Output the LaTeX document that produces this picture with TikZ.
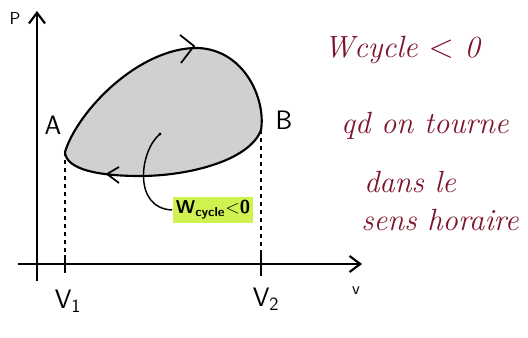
\documentclass[tikz,border=0pt]{standalone}
\usetikzlibrary{arrows.meta}
\definecolor{inkred}{RGB}{125,20,45}
\definecolor{cyclegray}{RGB}{208,208,206}
\definecolor{hilite}{RGB}{208,242,80}
\tikzset{every picture/.style={line width=0.75pt}}

\begin{document}
\begin{tikzpicture}[x=0.75pt,y=0.75pt,yscale=-1,xscale=1,
  axisline/.style={line width=1.6pt,-{Straight Barb[length=8pt,width=12pt]}},
  lbl/.style={inner sep=0.75pt,font=\sffamily\fontsize{20}{24}\selectfont},
  note/.style={inner sep=0.75pt,color=inkred,font=\fontsize{23}{28}\selectfont\itshape}]
\useasboundingbox (0,0) rectangle (528,338);

%Points of the cycle
\coordinate (A) at (65,152);
\coordinate (B) at (261,130);
\coordinate (V1) at (65,264);
\coordinate (V2) at (261,264);
\coordinate (dot) at (160,134);

%Shape: Axis 2D
\draw [axisline] (37,281) -- (37,11);
\draw [axisline] (18,264) -- (362,264);

%Curve Lines: the cycle
\draw [line width=1.6pt,fill=cyclegray] (A) .. controls (78,110) and (140,47) .. (198,48) .. controls (245,50) and (266,100) .. (B) .. controls (250,160) and (190,176) .. (140,176) .. controls (100,176) and (66,170) .. (A) -- cycle;
%Straight Lines: direction marks
\draw [line width=1.3pt] (180,35) -- (194,46) -- (181,63);
\draw [line width=1.3pt] (119,167) -- (107,174) -- (119,183);

%Straight Lines: dashed
\draw [dashed,line width=1pt] (A) -- (V1);
\draw [dashed,line width=1pt] (B) -- (V2);
\draw [line width=1.2pt] (V1) ++(0,-9) -- ++(0,18);
\draw [line width=1.2pt] (V2) ++(0,-12) -- ++(0,24);

% Text Node
\node [lbl,fill=hilite,inner sep=2.5pt,font=\sffamily\bfseries\fontsize{14}{16}\selectfont] (wlbl) at (213,210) {W\textsubscript{cycle}$<$0};
\fill (dot) circle (1.6);
\draw [line width=1.1pt] (dot) .. controls (140,150) and (132,208) .. (wlbl.west);

% Text Node
\node [lbl,font=\sffamily\fontsize{13}{15}\selectfont] (P) at (15,18) {P};
\node [lbl,font=\sffamily\fontsize{13}{15}\selectfont] (v) at (356,291) {v};
\node [lbl] (Alab) at (53,125) {A};
\node [lbl] (Blab) at (284,120) {B};
\node [lbl] (V1lab) at (68,301) {V\textsubscript{1}};
\node [lbl] (V2lab) at (266,299) {V\textsubscript{2}};

% Text Node: note
\node [note] (n1) at (402,50) {Wcycle $<$ 0};
\node [note] (n2) at (425,126) {qd on tourne};
\node [note] (n3) at (410,182) {dans le};
\node [note] (n4) at (440,220) {sens horaire};

\end{tikzpicture}
\end{document}
